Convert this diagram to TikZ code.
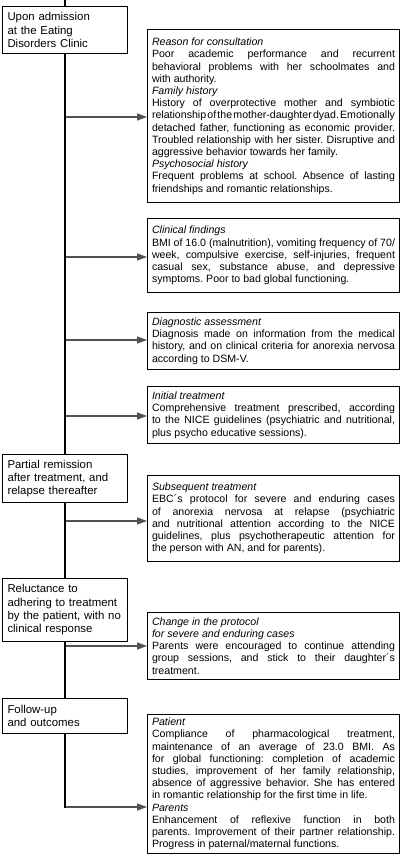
\documentclass[tikz,border=0pt]{standalone}
\usepackage{fontspec}
\setmainfont{Liberation Sans}
\usetikzlibrary{arrows.meta}
\tikzset{
  stage/.style={draw, line width=1pt, fill=white, text width=114pt, inner xsep=5.5pt, inner ysep=3pt,
    align=left, anchor=north, font=\fontsize{11.4}{13.3}\selectfont},
  info/.style={draw, line width=1pt, fill=white, text width=243pt, inner xsep=4.5pt, inner ysep=3pt,
    align=justify, anchor=north west, font=\fontsize{10.6}{12.2}\selectfont,
    execute at begin node={\frenchspacing\spaceskip=0.278em plus 1em minus 0.25em\relax\tolerance=10000\relax\hyphenpenalty=10000\relax\exhyphenpenalty=10000\relax}},
  trunk/.style={line width=2pt, draw=black},
  branch/.style={line width=1.5pt, draw=black!68, -{Triangle[length=10pt,width=7pt,fill=black!68]}},
}
\begin{document}
\begin{tikzpicture}[x=1pt,y=1pt]
\useasboundingbox (0,0) rectangle (404,-867);
% stage boxes
\node[stage, minimum height=47pt] (l1) at (64.5,-6) {Upon admission\\at the Eating\\Disorders Clinic};
\node[stage, minimum height=48pt] (l2) at (64.5,-454) {Partial remission\\after treatment, and\\relapse thereafter};
\node[stage, minimum height=63.5pt] (l3) at (64.5,-577.5) {Reluctance to\\adhering to treatment\\\mbox{by the patient, with no}\\clinical response};
\node[stage, minimum height=35pt] (l4) at (64.5,-698) {Follow-up\\and outcomes};
% information boxes
\node[info, minimum height=172.5pt] (r1) at (147,-29.5) {{\itshape Reason for consultation}\\
Poor academic performance and recurrent\linebreak behavioral problems with her schoolmates and\linebreak with authority.\\
{\itshape Family history}\\
History of overprotective mother and symbiotic\linebreak relationship of the mother-daughter dyad. Emotionally\linebreak detached father, functioning as economic provider.\linebreak Troubled relationship with her sister. Disruptive and\linebreak aggressive behavior towards her family.\\
{\itshape Psychosocial history}\\
Frequent problems at school. Absence of lasting\linebreak friendships and romantic relationships.};
\node[info, minimum height=74pt] (r2) at (147,-218) {{\itshape Clinical findings}\\
BMI of 16.0 (malnutrition), vomiting frequency of 70/\linebreak week, compulsive exercise, self-injuries, frequent\linebreak casual sex, substance abuse, and depressive\linebreak symptoms. Poor to bad global functioning.};
\node[info, minimum height=57pt] (r3) at (147,-312) {{\itshape Diagnostic assessment}\\
Diagnosis made on information from the medical\linebreak history, and on clinical criteria for anorexia nervosa\linebreak according to DSM-V.};
\node[info, minimum height=57pt] (r4) at (147,-386) {{\itshape Initial treatment}\\
Comprehensive treatment prescribed, according\linebreak to the NICE guidelines (psychiatric and nutritional,\linebreak plus psycho educative sessions).};
\node[info, minimum height=86pt] (r5) at (147,-475) {{\itshape Subsequent treatment}\\
EBC´s protocol for severe and enduring cases\linebreak of anorexia nervosa at relapse (psychiatric\linebreak and nutritional attention according to the NICE\linebreak guidelines, plus psychotherapeutic attention for\linebreak the person with AN, and for parents).};
\node[info, minimum height=67pt] (r6) at (147,-612) {{\itshape Change in the protocol}\\
{\itshape for severe and enduring cases}\\
Parents were encouraged to continue attending\linebreak group sessions, and stick to their daughter´s\linebreak treatment.};
\node[info, minimum height=139pt] (r7) at (147,-714) {{\itshape Patient}\\
Compliance of pharmacological treatment,\linebreak maintenance of an average of 23.0 BMI. As\linebreak for global functioning: completion of academic\linebreak studies, improvement of her family relationship,\linebreak absence of aggressive behavior. She has entered\linebreak in romantic relationship for the first time in life.\\
{\itshape Parents}\\
Enhancement of reflexive function in both\linebreak parents. Improvement of their partner relationship.\linebreak Progress in paternal/maternal functions.};
% trunk coordinates
\coordinate (top) at (64.5,0);
\coordinate (a1) at (64.5,-117);
\coordinate (a2) at (64.5,-257);
\coordinate (a3) at (64.5,-340);
\coordinate (a4) at (64.5,-416);
\coordinate (a5) at (64.5,-521);
\coordinate (a6) at (64.5,-646);
\coordinate (a7) at (64.5,-807);
% branches
\draw[branch] (a1) -- (a1 -| r1.west);
\draw[branch] (a2) -- (a2 -| r2.west);
\draw[branch] (a3) -- (a3 -| r3.west);
\draw[branch] (a4) -- (a4 -| r4.west);
\draw[branch] (a5) -- (a5 -| r5.west);
\draw[branch] (a6) -- (a6 -| r6.west);
\draw[branch] (a7) -- (a7 -| r7.west);
% trunk
\draw[trunk] (top) -- (l1);
\draw[trunk] (l1) -- (l2);
\draw[trunk] (l2) -- (l3);
\draw[trunk] (l3) -- (l4);
\draw[trunk, line cap=rect] (l4) -- (a7);
\end{tikzpicture}
\end{document}
